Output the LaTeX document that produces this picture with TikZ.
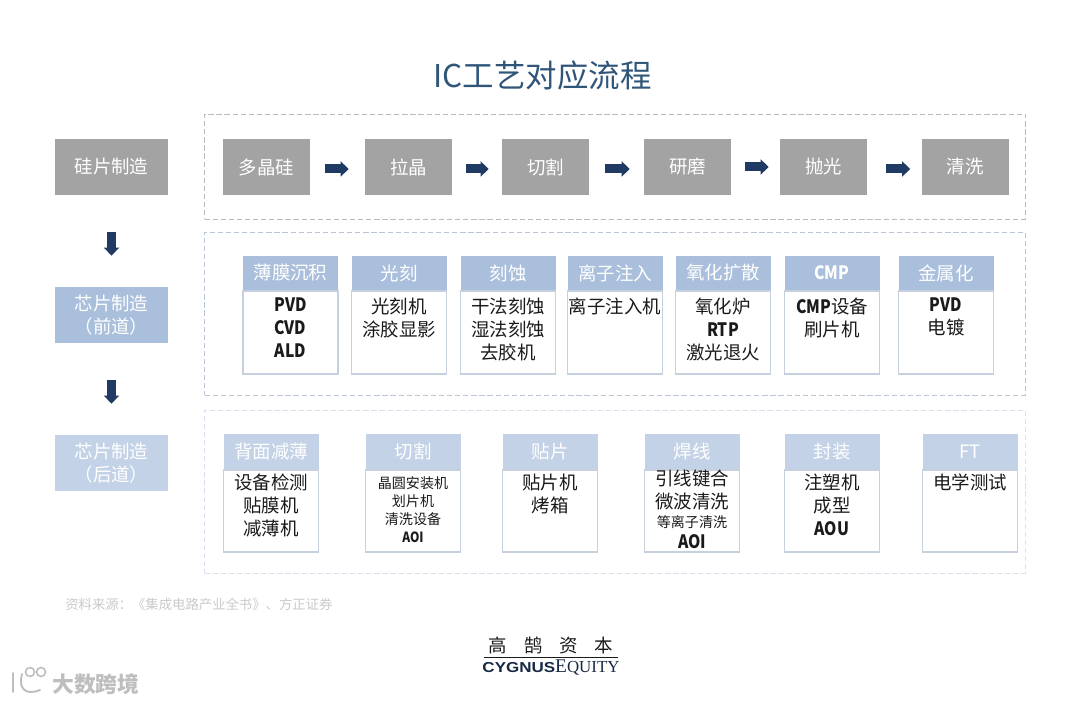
\documentclass[tikz,border=0pt]{standalone}
\usepackage{fontspec}
\setmainfont{Noto Sans CJK SC}
\newfontfamily\latinsans{Liberation Sans}
\newfontfamily\latinserif{Liberation Serif}
\usetikzlibrary{arrows.meta,positioning}
\definecolor{navy}{HTML}{1F3B63}
\definecolor{titleblue}{HTML}{2F5578}
\definecolor{stonegray}{HTML}{A3A3A3}
\definecolor{headblue}{HTML}{A9BFDB}
\definecolor{paleblue}{HTML}{C3D2E6}
\definecolor{cellline}{HTML}{C6D0DE}
\definecolor{textblack}{HTML}{1A1A1A}
\definecolor{notegray}{HTML}{C9C9C9}
\definecolor{markgray}{HTML}{BEBEBE}
\newcommand{\cellheight}{1.66cm}
\newcommand{\celltext}[2][0.14cm]{\parbox[c][\cellheight][t]{1.9cm}{\centering\vspace*{#1}#2}}
\newcommand{\narrowbold}[1]{\scalebox{0.85}[1]{\textbf{#1}}}

\begin{document}
\begin{tikzpicture}[
  stage/.style={minimum width=2.26cm,minimum height=1.12cm,align=center,inner sep=0pt,
    text=white,font=\fontsize{10.5}{13}\selectfont},
  stepbox/.style={fill=stonegray,minimum width=1.74cm,minimum height=1.12cm,inner sep=0pt,
    text=white,font=\fontsize{10.5}{13}\selectfont},
  group/.style={draw,dash pattern=on 3pt off 1.6pt,line width=0.5pt,minimum width=16.42cm,inner sep=0pt},
  head/.style={fill=headblue,minimum width=1.9cm,minimum height=0.68cm,inner sep=0pt,
    text=white,font=\fontsize{10.5}{13}\selectfont},
  backhead/.style={head,fill=paleblue,minimum height=0.70cm},
  cell/.style={draw=cellline,line width=0.7pt,inner sep=0pt,text=textblack,
    font=\fontsize{10.5}{13}\selectfont},
  flow/.style={-{Triangle[length=1.6mm,width=3mm]},line width=0.18cm,navy}]
\useasboundingbox (0,0) rectangle (21.6,14.06);

\node[font=\fontsize{17.9}{20}\selectfont,text=titleblue] (title) at (10.85,12.54) {IC工艺对应流程};

\node[group,draw=stonegray!75,minimum height=2.10cm] (waferzone) at (12.30,10.73) {};
\node[group,draw=headblue!70!gray!70,minimum height=3.26cm] (frontzone) at (12.30,7.79) {};
\node[group,draw=paleblue!70,minimum height=3.26cm] (backzone) at (12.30,4.23) {};

\node[stage,fill=stonegray] (wafer) at (2.23,10.72) {硅片制造};
\node[stage,fill=headblue] (front) at (2.23,7.76) {芯片制造\\（前道）};
\node[stage,fill=paleblue] (back) at (2.23,4.80) {芯片制造\\（后道）};
\draw[flow,shorten <=0.74cm,shorten >=0.62cm] (wafer) -- (front);
\draw[flow,shorten <=0.74cm,shorten >=0.62cm] (front) -- (back);

\node[stepbox] (poly) at (5.33,10.72) {多晶硅};
\node[stepbox] (pull) at (8.17,10.72) {拉晶};
\node[stepbox] (slice) at (10.91,10.72) {切割};
\node[stepbox] (grind) at (13.75,10.72) {研磨};
\node[stepbox] (polish) at (16.47,10.72) {抛光};
\node[stepbox] (clean) at (19.30,10.72) {清洗};
\draw[flow,shorten <=0.30cm,shorten >=0.32cm] ([yshift=-0.04cm]poly.east) -- ([yshift=-0.04cm]pull.west);
\draw[flow,shorten <=0.28cm,shorten >=0.26cm] ([yshift=-0.04cm]pull.east) -- ([yshift=-0.04cm]slice.west);
\draw[flow,shorten <=0.32cm,shorten >=0.28cm] ([yshift=-0.04cm]slice.east) -- ([yshift=-0.04cm]grind.west);
\draw[flow,shorten <=0.28cm,shorten >=0.22cm] (grind.east) -- (polish.west);
\draw[flow,shorten <=0.38cm,shorten >=0.22cm] ([yshift=-0.04cm]polish.east) -- ([yshift=-0.04cm]clean.west);

\node[head] (filmhead) at (5.81,8.60) {薄膜沉积};
\node[cell,below=0pt of filmhead] (filmcell) {\celltext{\narrowbold{PVD}\\\narrowbold{CVD}\\\narrowbold{ALD}}};
\node[head] (lithohead) at (7.98,8.60) {光刻};
\node[cell,below=0pt of lithohead] (lithocell) {\celltext{光刻机\\涂胶显影}};
\node[head] (etchhead) at (10.16,8.60) {刻蚀};
\node[cell,below=0pt of etchhead] (etchcell) {\celltext{干法刻蚀\\湿法刻蚀\\去胶机}};
\node[head] (ionhead) at (12.30,8.60) {离子注入};
\node[cell,below=0pt of ionhead] (ioncell) {\celltext{离子注入机}};
\node[head] (oxidehead) at (14.46,8.60) {氧化扩散};
\node[cell,below=0pt of oxidehead] (oxidecell) {\celltext{氧化炉\\\narrowbold{RTP}\\激光退火}};
\node[head] (cmphead) at (16.64,8.60) {\narrowbold{CMP}};
\node[cell,below=0pt of cmphead] (cmpcell) {\celltext{\narrowbold{CMP}设备\\刷片机}};
\node[head] (metalhead) at (18.92,8.60) {金属化};
\node[cell,below=0pt of metalhead] (metalcell) {\celltext{\narrowbold{PVD}\\电镀}};

\renewcommand{\cellheight}{1.64cm}
\node[backhead] (thinhead) at (5.42,5.03) {背面减薄};
\node[cell,below=0pt of thinhead] (thincell) {\celltext[0.08cm]{设备检测\\贴膜机\\减薄机}};
\node[backhead] (dicehead) at (8.26,5.03) {切割};
\node[cell,below=0pt of dicehead] (dicecell) {\celltext{\fontsize{8}{10.2}\selectfont 晶圆安装机\\划片机\\清洗设备\\\narrowbold{AOI}}};
\node[backhead] (bondhead) at (11.00,5.03) {贴片};
\node[cell,below=0pt of bondhead] (bondcell) {\celltext[0.08cm]{贴片机\\烤箱}};
\node[backhead] (wirehead) at (13.84,5.03) {焊线};
\node[cell,below=0pt of wirehead] (wirecell) {\celltext[0cm]{引线键合\\微波清洗\\[-0.08cm]{\fontsize{8}{10}\selectfont 等离子清洗}\\[-0.04cm]\narrowbold{AOI}}};
\node[backhead] (packhead) at (16.64,5.03) {封装};
\node[cell,below=0pt of packhead] (packcell) {\celltext[0.08cm]{注塑机\\成型\\\narrowbold{AOU}}};
\node[backhead] (testhead) at (19.40,5.03) {FT};
\node[cell,below=0pt of testhead] (testcell) {\celltext[0.08cm]{电学测试}};

\node[anchor=west,inner sep=0pt,text=notegray,font=\fontsize{7.6}{9}\selectfont] (source) at (1.30,1.98) {资料来源：《集成电路产业全书》、方正证券};

\node[inner sep=0pt,text=textblack,font=\fontsize{10.5}{12}\selectfont] (logoname) at (11.02,1.15) {高\hspace{0.34cm}鹄\hspace{0.34cm}资\hspace{0.34cm}本};
\node[inner sep=0pt,text=navy!70!black] (logoword) at (11.02,0.71)
  {\scalebox{1.18}[1]{\latinsans\bfseries\fontsize{8.2}{9}\selectfont CYGNUS}\latinserif\fontsize{11}{12}\selectfont E\fontsize{9.6}{12}\selectfont QUITY};
\draw[line width=0.6pt,textblack] ([xshift=-1.34cm,yshift=-0.06cm]logoname.south) -- ([xshift=1.34cm,yshift=-0.06cm]logoname.south);

\node[anchor=west,inner sep=0pt,text=markgray,font=\fontsize{12.4}{14}\bfseries\selectfont] (watermark) at (1.04,0.38) {大数跨境};
\draw[markgray,line width=1.1pt,line cap=round] (0.26,0.60) -- (0.26,0.22);
\draw[markgray,line width=1.1pt,line cap=round] (0.44,0.58) .. controls (0.36,0.30) and (0.50,0.14) .. (0.80,0.26);
\draw[markgray,line width=0.9pt] (0.60,0.62) circle (0.09);
\draw[markgray,line width=0.9pt] (0.82,0.62) circle (0.09);
\end{tikzpicture}
\end{document}
